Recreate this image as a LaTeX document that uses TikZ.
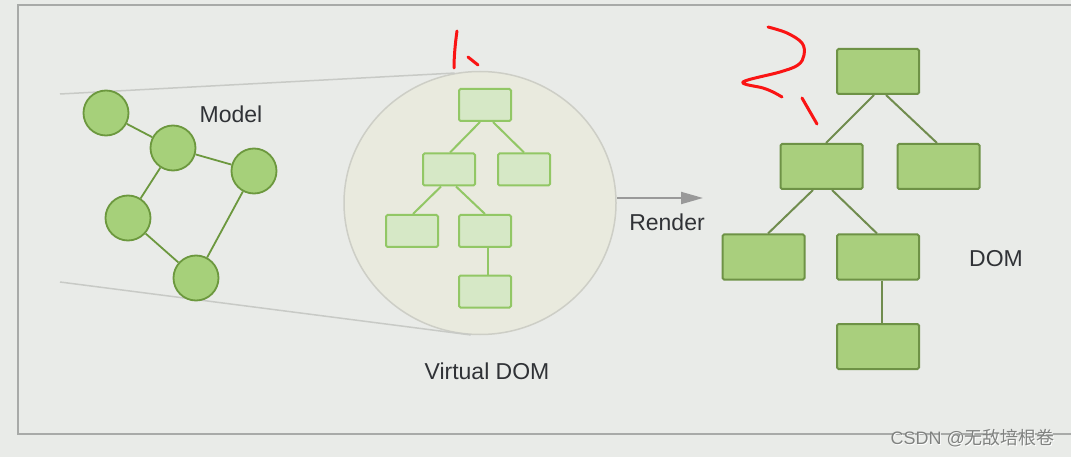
\documentclass[tikz,border=0pt]{standalone}
\usepackage{fontspec}
\setmainfont{Liberation Sans}
\newfontfamily\cjk{Noto Sans CJK SC}
\usetikzlibrary{arrows.meta,shapes.geometric}
\definecolor{bgc}{RGB}{233,235,232}
\definecolor{framec}{RGB}{168,170,168}
\definecolor{modfill}{RGB}{166,208,122}
\definecolor{moddraw}{RGB}{108,152,62}
\definecolor{bigfill}{RGB}{233,234,222}
\definecolor{bigdraw}{RGB}{205,206,198}
\definecolor{vfill}{RGB}{214,232,198}
\definecolor{vdraw}{RGB}{146,199,101}
\definecolor{dfill}{RGB}{169,207,125}
\definecolor{ddraw}{RGB}{110,146,70}
\definecolor{dedge}{RGB}{112,140,78}
\definecolor{funnel}{RGB}{200,202,198}
\definecolor{txt}{RGB}{48,50,54}
\definecolor{annot}{RGB}{250,20,20}
\definecolor{wmc}{RGB}{128,130,128}
\tikzset{
  modnode/.style={circle,fill=modfill,draw=moddraw,line width=1.8pt,minimum size=45pt,inner sep=0pt},
  modedge/.style={draw=moddraw,line width=1.8pt},
  vbox/.style={rectangle,rounded corners=1.5pt,fill=vfill,draw=vdraw,line width=2pt,minimum width=52pt,minimum height=32pt,inner sep=0pt},
  vedge/.style={draw=vdraw,line width=2pt},
  dbox/.style={rectangle,rounded corners=1.5pt,fill=dfill,draw=ddraw,line width=2pt,minimum width=82pt,minimum height=45pt,inner sep=0pt},
  dedgest/.style={draw=dedge,line width=2pt},
  lbl/.style={font=\fontsize{23}{27}\selectfont,text=txt,inner sep=0pt},
  redmark/.style={draw=annot,line width=3pt,line cap=round,line join=round},
  wmark/.style={font=\fontsize{18}{20}\selectfont,inner sep=0pt,anchor=east},
}
\begin{document}
\begin{tikzpicture}[x=1pt,y=-1pt]
\useasboundingbox (0,0) rectangle (1071,457);
\fill[bgc] (0,0) rectangle (1071,457);
\draw[framec,line width=2pt] (1071,5) -- (18,5) -- (18,434) -- (1071,434);

% Virtual DOM circle
\node[ellipse,fill=bigfill,draw=bigdraw,line width=1.5pt,minimum width=272pt,minimum height=263pt,inner sep=0pt] (bigc) at (480,203) {};
\coordinate (ft) at (60,94);
\coordinate (fb) at (60,282);
\draw[funnel,line width=1.5pt] (ft) -- (bigc.101);
\draw[funnel,line width=1.5pt] (fb) -- (bigc.266);

% Model
\node[modnode] (c1) at (106,113) {};
\node[modnode] (c2) at (173,148) {};
\node[modnode] (c3) at (254,171) {};
\node[modnode] (c4) at (128,218) {};
\node[modnode] (c5) at (196,278) {};
\draw[modedge] (c1) -- (c2);
\draw[modedge] (c2) -- (c3);
\draw[modedge] (c2) -- (c4);
\draw[modedge] (c4) -- (c5);
\draw[modedge] (c3) -- (c5);
\node[lbl] (model) at (231,114) {Model};

% Virtual DOM tree
\node[vbox] (v1) at (485,105) {};
\node[vbox] (v2) at (449,169.5) {};
\node[vbox] (v3) at (524,169.5) {};
\node[vbox] (v4) at (412,231) {};
\node[vbox] (v5) at (485,231) {};
\node[vbox] (v6) at (485,291.5) {};
\draw[vedge] ([xshift=-5pt]v1.south) -- ([xshift=1pt]v2.north);
\draw[vedge] ([xshift=8pt]v1.south) -- (v3.north);
\draw[vedge] ([xshift=-8pt]v2.south) -- ([xshift=1pt]v4.north);
\draw[vedge] ([xshift=7pt]v2.south) -- (v5.north);
\draw[vedge] ([xshift=3pt]v5.south) -- ([xshift=3pt]v6.north);
\node[lbl] (vlabel) at (487,371) {Virtual DOM};

% Render arrow
\coordinate (ra) at (617,198);
\coordinate (rb) at (703,198);
\draw[draw=gray!80,line width=2pt,-{Triangle[length=22pt,width=12pt]}] (ra) -- (rb);
\node[lbl] (render) at (667,222) {Render};

% DOM tree
\node[dbox] (d1) at (878,71.5) {};
\node[dbox] (d2) at (821.5,166.5) {};
\node[dbox] (d3) at (938.5,166.5) {};
\node[dbox] (d4) at (763.5,257) {};
\node[dbox] (d5) at (878,257) {};
\node[dbox] (d6) at (878,346.5) {};
\draw[dedgest] ([xshift=-4pt]d1.south) -- ([xshift=4.5pt]d2.north);
\draw[dedgest] ([xshift=8pt]d1.south) -- ([xshift=-1.5pt]d3.north);
\draw[dedgest] ([xshift=-8.5pt]d2.south) -- ([xshift=4.5pt]d4.north);
\draw[dedgest] ([xshift=10.5pt]d2.south) -- ([xshift=-1pt]d5.north);
\draw[dedgest] ([xshift=4pt]d5.south) -- ([xshift=4pt]d6.north);
\node[lbl] (domlabel) at (996,259) {DOM};

% Red annotations
\draw[redmark] (457,31) .. controls (455,45) and (454,58) .. (454,68);
\draw[redmark] (468,57) -- (478,65);
\draw[redmark] plot[smooth,tension=0.6] coordinates {(768,27) (787,33) (802,43) (804,55) (798,65) (780,72) (743,82) (763,88) (773,92) (782,97)};
\draw[redmark] (802,98) -- (817,124);

% watermark
\node[wmark,text=white] (wmshadow) at (1055.8,438.8) {CSDN @{\cjk 无敌培根卷}};
\node[wmark,text=wmc] (wm) at (1055,438) {CSDN @{\cjk 无敌培根卷}};
\end{tikzpicture}
\end{document}
